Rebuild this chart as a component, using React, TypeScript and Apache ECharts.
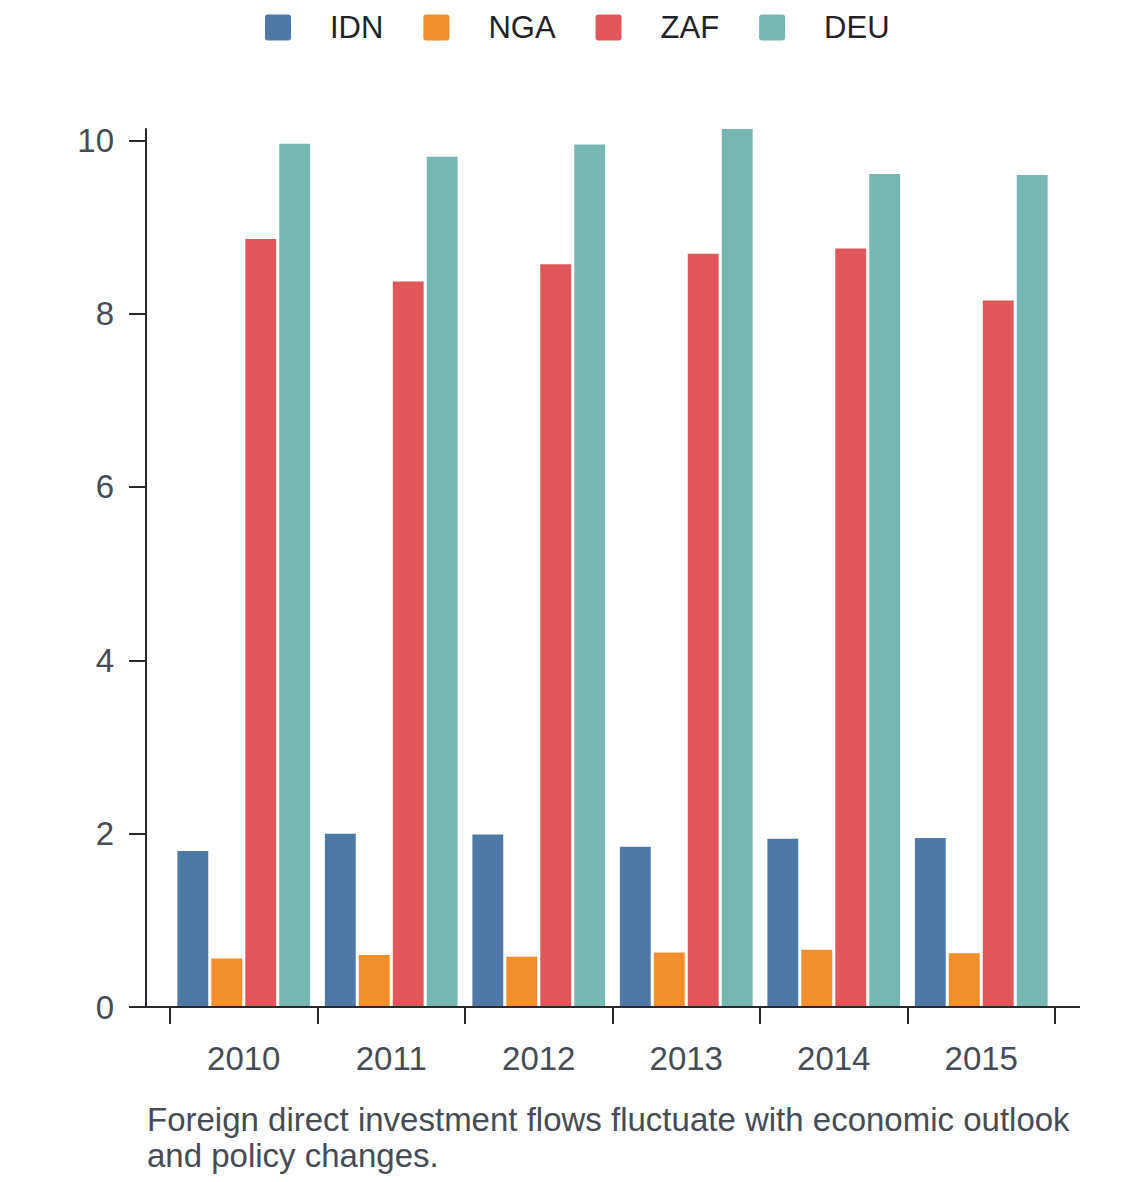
import React, { useEffect, useRef } from "react";
import * as echarts from "echarts";

const categories = ["2010", "2011", "2012", "2013", "2014", "2015"];
const seriesNames = ["IDN", "NGA", "ZAF", "DEU"];
const idn = [1.8, 2.0, 1.99, 1.85, 1.94, 1.95];
const nga = [0.56, 0.6, 0.58, 0.63, 0.66, 0.62];
const zaf = [8.86, 8.37, 8.57, 8.69, 8.75, 8.15];
const deu = [9.96, 9.81, 9.95, 10.13, 9.61, 9.6];
const yTicks = [0, 2, 4, 6, 8, 10];
const colors = ["#4e79a7", "#f28e2b", "#e15759", "#76b7b2"];
const caption =
  "Foreign direct investment flows fluctuate with economic outlook\nand policy changes.";

const FONT = "'Liberation Sans', Arial, sans-serif";
const AXIS = "#262a2f";
const LABEL = "#454c55";
const ICON =
  "path://M3,0 L23,0 Q26,0 26,3 L26,23 Q26,26 23,26 L3,26 Q0,26 0,23 L0,3 Q0,0 3,0 Z";

export default function App() {
  const ref = useRef<HTMLDivElement>(null);
  useEffect(() => {
    document.body.style.margin = "0";
    if (!ref.current) return;
    const chart = echarts.init(ref.current, null, { renderer: "svg" });
    const values = [idn, nga, zaf, deu];
    chart.setOption({
      animation: false,
      color: colors,
      textStyle: { fontFamily: FONT },
      legend: {
        data: seriesNames,
        left: 265,
        top: 12,
        padding: 0,
        icon: ICON,
        itemWidth: 26,
        itemHeight: 26,
        itemGap: 40,
        textStyle: {
          fontSize: 31,
          color: "#1f2328",
          fontFamily: FONT,
          padding: [0, 0, 0, 34],
        },
      },
      grid: { left: 170, right: 85, top: 129, bottom: 175, containLabel: false },
      xAxis: {
        type: "category",
        data: categories,
        boundaryGap: true,
        axisLine: { show: false },
        axisTick: { show: true, length: 17, lineStyle: { color: AXIS, width: 2 } },
        axisLabel: { fontSize: 33, color: LABEL, margin: 35, fontFamily: FONT },
        splitLine: { show: false },
      },
      yAxis: {
        type: "value",
        min: 0,
        max: 10.13,
        offset: 24,
        axisLine: { show: true, lineStyle: { color: AXIS, width: 2 } },
        axisTick: {
          show: true,
          length: 17,
          customValues: yTicks,
          lineStyle: { color: AXIS, width: 2 },
        },
        axisLabel: {
          fontSize: 33,
          color: LABEL,
          margin: 32,
          customValues: yTicks,
          fontFamily: FONT,
        },
        splitLine: { show: false },
      },
      series: seriesNames.map((name, i) => ({
        name,
        type: "bar",
        data: values[i],
        barGap: "10%",
        barCategoryGap: "10%",
        itemStyle: { color: colors[i] },
      })),
      graphic: [
        {
          type: "line",
          shape: { x1: 146, y1: 1007, x2: 1080, y2: 1007 },
          style: { stroke: AXIS, lineWidth: 2 },
          z: 10,
        },
        {
          type: "text",
          left: 147,
          top: 1101,
          style: {
            text: caption,
            fontSize: 33,
            lineHeight: 36,
            fill: LABEL,
            fontFamily: FONT,
          },
        },
      ],
    });
    return () => chart.dispose();
  }, []);
  return <div ref={ref} style={{ width: 1140, height: 1182 }} />;
}
